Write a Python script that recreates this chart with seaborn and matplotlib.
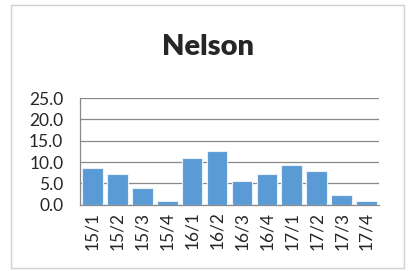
import numpy as np
import pandas as pd
import seaborn as sns
import matplotlib.pyplot as plt
from matplotlib.patches import Rectangle

# data
quarters = ['15/1', '15/2', '15/3', '15/4', '16/1', '16/2',
            '16/3', '16/4', '17/1', '17/2', '17/3', '17/4']
values = [8.5, 7.1, 3.8, 0.8, 10.9, 12.5, 5.5, 7.1, 9.4, 7.8, 2.3, 0.8]
yticks = [0, 5, 10, 15, 20, 25]

df = pd.DataFrame({'quarter': quarters, 'value': values})

sns.set_style('white')
plt.rcParams['font.family'] = ['Lato', 'DejaVu Sans']

fig = plt.figure(figsize=(4.08, 2.71), dpi=100)
ax = fig.add_axes([0.196, 0.245, 0.733, 0.393])

sns.barplot(data=df, x='quarter', y='value', color='#5B9BD5', saturation=1,
            width=0.83, edgecolor='#E8F0F8', linewidth=0.8, ax=ax, zorder=3)

ax.set_ylim(0, 25)
ax.set_xlim(-0.5, len(quarters) - 0.5)
ax.set_yticks(yticks)
ax.set_yticklabels([f'{t:.1f}' for t in yticks], fontsize=12.5)
ax.set_xticks(range(len(quarters)))
ax.set_xticklabels(quarters, rotation=90, fontsize=12.5)
ax.set_xlabel('')
ax.set_ylabel('')

# category boundary tick marks like Excel
ax.set_xticks(np.arange(-0.5, len(quarters), 1), minor=True)
ax.tick_params(axis='x', which='major', length=0, pad=5)
ax.tick_params(axis='x', which='minor', length=5, color='#888888', width=0.8)
ax.tick_params(axis='y', length=4, color='#888888', width=0.8, pad=8)

ax.yaxis.grid(True, color='#888888', linewidth=0.9, zorder=0)
for side in ['top', 'right']:
    ax.spines[side].set_visible(False)
for side in ['left', 'bottom']:
    ax.spines[side].set_color('#888888')
    ax.spines[side].set_linewidth(0.9)

fig.text(0.51, 0.825, 'Nelson', ha='center', va='center',
         fontsize=21, fontweight='heavy')

# light chart border
fig.patches.append(Rectangle((0.027, 0.01), 0.963, 0.972, transform=fig.transFigure,
                             fill=False, edgecolor='#D0D0D0', linewidth=1))

fig.savefig('out.png', dpi=100)
